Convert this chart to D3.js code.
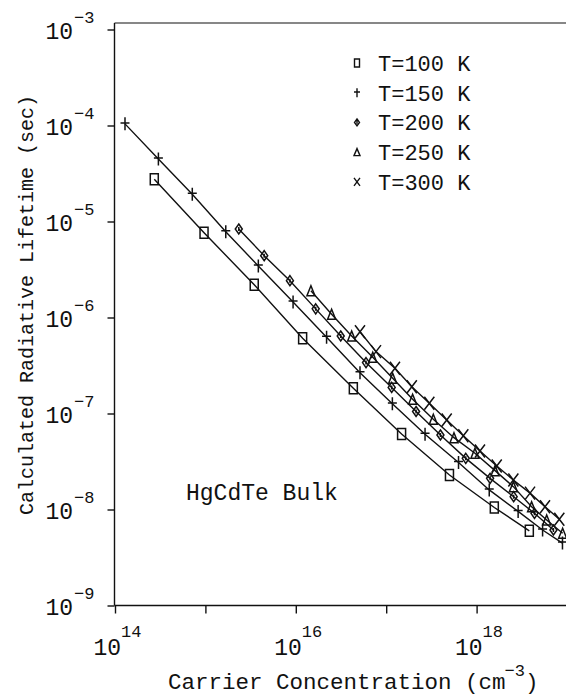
<!DOCTYPE html>
<html>
<head>
<meta charset="utf-8">
<script src="https://cdn.jsdelivr.net/npm/d3@7"></script>
<style>
  html, body { margin: 0; padding: 0; background: #fff; }
  svg { display: block; }
  text { font-family: "Liberation Mono", "DejaVu Sans Mono", monospace; fill: #111; }
</style>
</head>
<body>
<svg id="chart" width="566" height="700"></svg>
<script>
// Carrier concentration (cm^-3) and radiative lifetime (s) for each temperature
const n100 = [2.72e14, 9.66e14, 3.47e15, 1.19e16, 4.33e16, 1.48e17, 5.01e17, 1.57e18, 3.83e18];
const tau100 = [2.75e-5, 7.64e-6, 2.19e-6, 6.07e-7, 1.83e-7, 6.11e-8, 2.29e-8, 1.05e-8, 6.0e-9];

const n150 = [1.29e14, 3.02e14, 7.16e14, 1.68e15, 3.85e15, 9.33e15, 2.19e16, 5.13e16, 1.17e17, 2.69e17, 6.31e17, 1.38e18, 2.88e18, 5.37e18, 8.91e18];
const tau150 = [1.04e-4, 4.47e-5, 1.92e-5, 7.83e-6, 3.44e-6, 1.45e-6, 6.22e-7, 2.66e-7, 1.26e-7, 6.07e-8, 3.09e-8, 1.60e-8, 9.55e-9, 6.11e-9, 4.47e-9];

const n200 = [2.34e15, 4.47e15, 8.61e15, 1.66e16, 3.14e16, 5.98e16, 1.15e17, 2.14e17, 3.98e17, 7.59e17, 1.41e18, 2.57e18, 4.37e18, 7.08e18];
const tau200 = [8.36e-6, 4.41e-6, 2.42e-6, 1.23e-6, 6.41e-7, 3.39e-7, 1.87e-7, 1.05e-7, 5.97e-8, 3.41e-8, 2.11e-8, 1.36e-8, 9.12e-9, 6.11e-9];

const n250 = [1.47e16, 2.49e16, 4.15e16, 7.10e16, 1.18e17, 1.96e17, 3.32e17, 5.62e17, 9.59e17, 1.60e18, 2.55e18, 4.06e18, 5.96e18, 8.95e18];
const tau250 = [1.90e-6, 1.08e-6, 6.41e-7, 3.85e-7, 2.33e-7, 1.41e-7, 8.71e-8, 5.60e-8, 3.85e-8, 2.54e-8, 1.73e-8, 1.07e-8, 7.78e-9, 5.65e-9];

const n300 = [5.13e16, 7.71e16, 1.25e17, 1.92e17, 3.00e17, 4.67e17, 7.13e17, 1.09e18, 1.67e18, 2.55e18, 3.90e18, 5.71e18, 8.22e18];
const tau300 = [7.11e-7, 4.41e-7, 2.96e-7, 1.90e-7, 1.28e-7, 8.55e-8, 5.87e-8, 4.06e-8, 2.84e-8, 2.03e-8, 1.48e-8, 1.07e-8, 7.91e-9];

const seriesLabels = ["T=100 K", "T=150 K", "T=200 K", "T=250 K", "T=300 K"];
const seriesMarkers = ["square", "plus", "diamond", "triangle", "cross"];

const xTickExponents = [14, 15, 16, 17, 18];
const xLabelExponents = [14, 16, 18];
const yTickExponents = [-3, -4, -5, -6, -7, -8, -9];

const series = [
  { n: n100, tau: tau100 },
  { n: n150, tau: tau150 },
  { n: n200, tau: tau200 },
  { n: n250, tau: tau250 },
  { n: n300, tau: tau300 }
].map((s, i) => ({
  label: seriesLabels[i],
  marker: seriesMarkers[i],
  points: s.n.map((v, j) => [v, s.tau[j]])
}));

const svg = d3.select("#chart");
const ink = "#111";

const frameLeft = 114.5, frameTop = 23, frameRight = 566, frameBottom = 605.5;

const x = d3.scaleLog().domain([1e14, 1e19]).range([115, 567]);
const y = d3.scaleLog().domain([1e-9, 1e-3]).range([605.5, 29.5]);

// frame: left axis, bottom axis, top border
const frame = svg.append("g").attr("stroke", ink).attr("stroke-width", 1.4).attr("fill", "none");
frame.append("line").attr("x1", frameLeft).attr("x2", frameLeft).attr("y1", frameTop).attr("y2", frameBottom);
frame.append("line").attr("x1", frameLeft).attr("x2", frameRight).attr("y1", frameBottom).attr("y2", frameBottom);
frame.append("line").attr("x1", frameLeft).attr("x2", frameRight).attr("y1", frameTop).attr("y2", frameTop).attr("stroke-width", 1.2);

// axes (ticks only; labels are drawn as base + superscript)
const xAxis = d3.axisBottom(x)
  .tickValues(xTickExponents.map(e => Math.pow(10, e)))
  .tickSize(8).tickSizeOuter(0).tickFormat("");
const gx = svg.append("g").attr("transform", `translate(0,${frameBottom})`).call(xAxis);
gx.select(".domain").remove();
gx.selectAll(".tick line").attr("stroke", ink).attr("stroke-width", 1.4);

const yAxis = d3.axisLeft(y)
  .tickValues(yTickExponents.map(e => Math.pow(10, e)))
  .tickSize(7).tickSizeOuter(0).tickFormat("");
const gy = svg.append("g").attr("transform", `translate(${frameLeft},0)`).call(yAxis);
gy.select(".domain").remove();
gy.selectAll(".tick line").attr("stroke", ink).attr("stroke-width", 1.4);

// y tick labels
const yLab = svg.append("g");
yTickExponents.forEach(e => {
  const ty = y(Math.pow(10, e));
  yLab.append("text").attr("x", 73).attr("y", ty + 9)
    .attr("text-anchor", "end").attr("font-size", 23).text("10");
  yLab.append("text").attr("x", 74).attr("y", ty - 7)
    .attr("font-size", 17).text("\u2212" + Math.abs(e));
});

// x tick labels
const xLab = svg.append("g");
xLabelExponents.forEach(e => {
  const tx = x(Math.pow(10, e));
  xLab.append("text").attr("x", tx + 6).attr("y", 655)
    .attr("text-anchor", "end").attr("font-size", 23).text("10");
  xLab.append("text").attr("x", tx + 6).attr("y", 637)
    .attr("font-size", 17).text(String(e));
});

// axis titles
const xt = svg.append("text").attr("x", 168).attr("y", 689).attr("font-size", 22.5);
xt.append("tspan").text("Carrier Concentration (cm");
xt.append("tspan").attr("dy", -13).attr("dx", -1).attr("font-size", 17).text("\u22123");
xt.append("tspan").attr("dy", 13).text(")");

svg.append("text")
  .attr("transform", "translate(33,305) rotate(-90)")
  .attr("text-anchor", "middle").attr("font-size", 20)
  .text("Calculated Radiative Lifetime (sec)");

svg.append("text").attr("x", 186).attr("y", 500).attr("font-size", 23).text("HgCdTe Bulk");

// marker shapes
function markerPath(type, s) {
  const p = d3.path();
  const w = s.w / 2, h = s.h / 2;
  switch (type) {
    case "square":
      p.rect(-w, -h, 2 * w, 2 * h); break;
    case "plus":
      p.moveTo(0, -h); p.lineTo(0, h);
      p.moveTo(-w, -h * 0.15); p.lineTo(w, -h * 0.15); break;
    case "diamond":
      p.moveTo(0, -h); p.lineTo(w, 0); p.lineTo(0, h); p.lineTo(-w, 0); p.closePath();
      p.moveTo(0, -h * 0.4); p.lineTo(0, h * 0.4); break;
    case "triangle":
      p.moveTo(0, -h); p.lineTo(w, h); p.lineTo(-w, h); p.closePath(); break;
    case "cross":
      p.moveTo(-w, -h); p.lineTo(w, h);
      p.moveTo(w, -h); p.lineTo(-w, h); break;
  }
  return p.toString();
}
const plotSize = {
  square: { w: 8, h: 11 }, plus: { w: 9, h: 13 }, diamond: { w: 7, h: 10 },
  triangle: { w: 8, h: 10 }, cross: { w: 10, h: 13 }
};
const legendSize = {
  square: { w: 5, h: 8 }, plus: { w: 6, h: 9 }, diamond: { w: 5, h: 7 },
  triangle: { w: 6, h: 7 }, cross: { w: 6, h: 8 }
};

const line = d3.line().x(d => x(d[0])).y(d => y(d[1]));

const plot = svg.append("g");
series.forEach(s => {
  plot.append("path").datum(s.points)
    .attr("d", line).attr("fill", "none")
    .attr("stroke", ink).attr("stroke-width", 1.4);
  plot.selectAll(null).data(s.points).enter().append("path")
    .attr("transform", d => `translate(${x(d[0])},${y(d[1])})`)
    .attr("d", markerPath(s.marker, plotSize[s.marker]))
    .attr("fill", "none")
    .attr("stroke", ink).attr("stroke-width", 1.5);
});

// legend
const legend = svg.append("g");
series.forEach((s, i) => {
  const ly = 63 + i * 29.7;
  legend.append("path")
    .attr("transform", `translate(357,${ly})`)
    .attr("d", markerPath(s.marker, legendSize[s.marker]))
    .attr("fill", "none").attr("stroke", ink).attr("stroke-width", 1.4);
  legend.append("text").attr("x", 378).attr("y", ly + 8)
    .attr("font-size", 22).text(s.label);
});
</script>
</body>
</html>
